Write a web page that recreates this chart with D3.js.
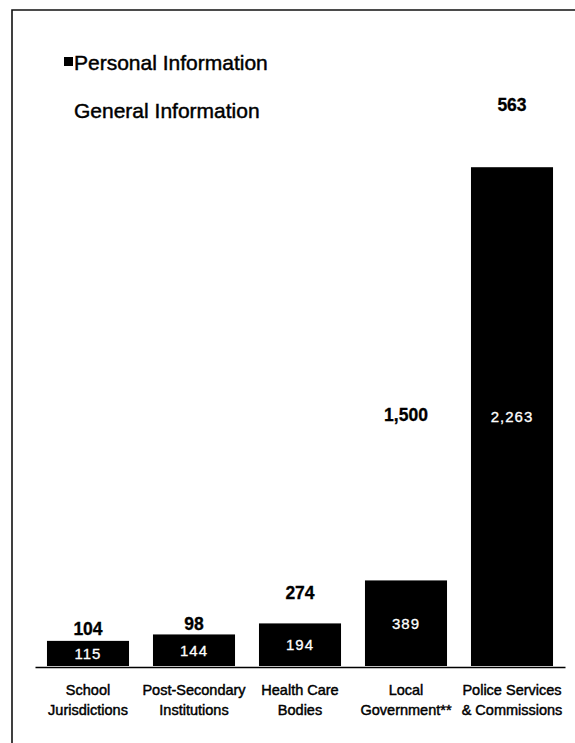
<!DOCTYPE html>
<html>
<head>
<meta charset="utf-8">
<script src="https://cdn.jsdelivr.net/npm/d3@7"></script>
<style>
  html, body { margin: 0; padding: 0; background: #fff; }
  svg { display: block; }
</style>
</head>
<body>
<svg id="chart" width="575" height="743"></svg>
<script>
// Requests by public body type, split by type of information requested
const categories = [
  "School\nJurisdictions",
  "Post-Secondary\nInstitutions",
  "Health Care\nBodies",
  "Local\nGovernment**",
  "Police Services\n& Commissions"
];
const personal = [115, 144, 194, 389, 2263];
const general = [104, 98, 274, 1500, 563];
const seriesNames = ["Personal Information", "General Information"];
const seriesKeys = ["personal", "general"];

const rows = categories.map((c, i) => ({ category: c, personal: personal[i], general: general[i] }));

const svg = d3.select("#chart");
const W = 575, H = 743;
const baseY = 666, topY = 43, left = 35, right = 565;

// Frame around the chart (runs off the right and bottom edges)
svg.append("path")
  .attr("d", `M12,${H + 5} L12,10 L${W + 5},10`)
  .attr("fill", "none")
  .attr("stroke", "#111")
  .attr("stroke-width", 1.6);

const x = d3.scaleBand()
  .domain(categories)
  .range([left, right])
  .paddingInner(0.226)
  .paddingOuter(0.113);

const stacked = d3.stack().keys(seriesKeys)(rows);

const y = d3.scaleLinear()
  .domain([0, d3.max(rows, d => d.personal + d.general)])
  .range([baseY, topY]);

const fills = { personal: "#000", general: "#fff" };
const fmt = d3.format(",");

// Bars
const layer = svg.selectAll("g.layer")
  .data(stacked)
  .join("g")
  .attr("class", "layer")
  .attr("fill", d => fills[d.key]);

layer.selectAll("rect")
  .data(d => d.map(v => ({ v, key: d.key })))
  .join("rect")
  .attr("x", d => x(d.v.data.category))
  .attr("width", x.bandwidth())
  .attr("y", d => y(d.v[1]))
  .attr("height", d => y(d.v[0]) - y(d.v[1]));

// Value labels centred in each segment
layer.selectAll("text")
  .data(d => d.map(v => ({ v, key: d.key })))
  .join("text")
  .attr("x", d => x(d.v.data.category) + x.bandwidth() / 2)
  .attr("y", d => (y(d.v[0]) + y(d.v[1])) / 2)
  .attr("dy", "0.36em")
  .attr("text-anchor", "middle")
  .attr("font-family", "'Liberation Sans', Arial, sans-serif")
  .attr("font-size", d => d.key === "personal" ? 15 : 17.5)
  .attr("font-weight", d => d.key === "personal" ? "normal" : "bold")
  .attr("letter-spacing", d => d.key === "personal" ? 1 : 0)
  .attr("fill", d => d.key === "personal" ? "#fff" : "#000")
  .attr("stroke", d => d.key === "personal" ? "#fff" : "#000")
  .attr("stroke-width", 0.3)
  .text(d => fmt(d.v.data[d.key]));

// Category axis
const xAxis = svg.append("g")
  .attr("transform", `translate(0,${baseY + 1})`)
  .call(d3.axisBottom(x).tickSize(0).tickSizeOuter(0).tickFormat(""));
xAxis.select(".domain")
  .attr("stroke", "#000")
  .attr("stroke-width", 1.6);

xAxis.selectAll(".tick").each(function (d) {
  const t = d3.select(this).append("text")
    .attr("text-anchor", "middle")
    .attr("font-family", "'Liberation Sans', Arial, sans-serif")
    .attr("font-size", 14.5)
    .attr("fill", "#000")
    .attr("stroke", "#000")
    .attr("stroke-width", 0.45);
  d.split("\n").forEach((line, i) => {
    t.append("tspan").attr("x", 0).attr("y", 28 + i * 20).text(line);
  });
});

// Legend
const legend = svg.append("g")
  .attr("font-family", "'Liberation Sans', Arial, sans-serif")
  .attr("font-size", 21)
  .attr("stroke-width", 0.45);
const legendItems = legend.selectAll("g")
  .data(seriesKeys)
  .join("g")
  .attr("transform", (d, i) => `translate(64,${62 + i * 48})`);
legendItems.append("rect")
  .attr("x", 0).attr("y", -5)
  .attr("width", 9).attr("height", 9)
  .attr("stroke", "none")
  .attr("fill", d => fills[d]);
legendItems.append("text")
  .attr("x", 10)
  .attr("dy", "0.36em")
  .attr("fill", "#000")
  .attr("stroke", "#000")
  .text((d, i) => seriesNames[i]);
</script>
</body>
</html>
